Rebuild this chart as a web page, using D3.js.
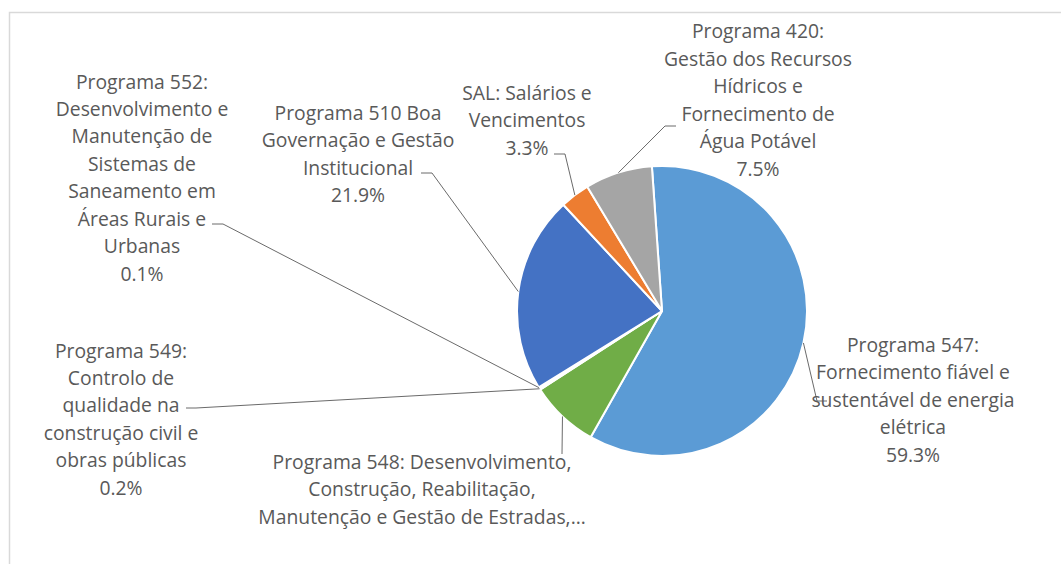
<!DOCTYPE html>
<html>
<head>
<meta charset="utf-8">
<script src="https://cdn.jsdelivr.net/npm/d3@7"></script>
<style>
  html, body { margin: 0; padding: 0; background: #fff; }
  svg { display: block; }
</style>
</head>
<body>
<svg id="chart" width="1061" height="564"></svg>
<script>
// Budget share by programme (percent), listed clockwise from the top of the pie
const categories = ["547", "548", "549", "552", "510", "SAL", "420"];
const shares = [59.3, 7.7, 0.2, 0.1, 21.9, 3.3, 7.5];
const sliceColors = ["#5B9BD5", "#70AD47", "#264478", "#9E480E", "#4472C4", "#ED7D31", "#A5A5A5"];

// Label text, one entry per line; the percentage line is appended from the data
const labelLines = [
  ["Programa 547:", "Fornecimento fiável e", "sustentável de energia", "elétrica"],
  ["Programa 548: Desenvolvimento,", "Construção, Reabilitação,", "Manutenção e Gestão de Estradas,…"],
  ["Programa 549:", "Controlo de", "qualidade na", "construção civil e", "obras públicas"],
  ["Programa 552:", "Desenvolvimento e", "Manutenção de", "Sistemas de", "Saneamento em", "Áreas Rurais e", "Urbanas"],
  ["Programa 510 Boa", "Governação e Gestão", "Institucional"],
  ["SAL: Salários e", "Vencimentos"],
  ["Programa 420:", "Gestão dos Recursos", "Hídricos e", "Fornecimento de", "Água Potável"]
];
// The 548 label is cut short, so it carries no percentage line
const showPercent = [true, false, true, true, true, true, true];

// Label placement: text centre x, first baseline y, leader-line bend and end points
const labelX = [913, 422, 121, 142, 358, 527, 758];
const labelY = [352, 469, 357.5, 88.5, 120, 100, 38.3];
const leaderBend = [[817, 401], null, [196, 408], [223, 224], [432, 173], [565, 154], [665, 126]];
const leaderEnd = [[827, 401], [562, 454], [186, 408], [212, 224], [421, 173], [554, 154], [676, 126]];

const svg = d3.select("#chart");
const cx = 662, cy = 311, R = 145;
const lineH = 27.45;
const textColor = "#595959";

// Chart area frame
svg.append("rect")
  .attr("x", 9.5).attr("y", 12.5)
  .attr("width", 1070).attr("height", 600)
  .attr("fill", "#fff")
  .attr("stroke", "#d9d9d9")
  .attr("stroke-width", 1.5);

const pie = d3.pie()
  .sort(null)
  .value(d => d)
  .startAngle(-4 * Math.PI / 180)
  .endAngle((360 - 4) * Math.PI / 180);

const arcs = pie(shares);
const arc = d3.arc().innerRadius(0).outerRadius(R);
const edge = d3.arc().innerRadius(R).outerRadius(R);

const g = svg.append("g").attr("transform", `translate(${cx},${cy})`);

g.selectAll("path.slice")
  .data(arcs)
  .join("path")
  .attr("class", "slice")
  .attr("d", arc)
  .attr("fill", (d, i) => sliceColors[i])
  .attr("stroke", "#fff")
  .attr("stroke-width", 2)
  .attr("stroke-linejoin", "round");

// Fit the label font so a reference line has the expected width
const fontFamily = "'Open Sans', 'Noto Sans', sans-serif";
const probe = svg.append("text")
  .attr("font-family", fontFamily)
  .attr("font-size", 100)
  .text("Gestão dos Recursos");
const probeW = probe.node().getComputedTextLength();
probe.remove();
const fontSize = probeW > 0 ? 100 * 188 / probeW : 17.5;

// Leader lines from slice edge to each label
const leaders = svg.append("g");
arcs.forEach((d, i) => {
  const c = edge.centroid(d);
  const pts = [[cx + c[0], cy + c[1]]];
  if (leaderBend[i]) pts.push(leaderBend[i]);
  pts.push(leaderEnd[i]);
  leaders.append("path")
    .attr("d", d3.line()(pts))
    .attr("fill", "none")
    .attr("stroke", "#595959")
    .attr("stroke-width", 0.9);
});

// Data labels
const fmt = d3.format(".1f");
const labels = svg.append("g")
  .attr("font-family", fontFamily)
  .attr("font-size", fontSize)
  .attr("fill", textColor)
  .attr("text-anchor", "middle");

categories.forEach((cat, i) => {
  const lines = labelLines[i].slice();
  if (showPercent[i]) lines.push(fmt(shares[i]) + "%");
  const t = labels.append("text").attr("class", "label-" + cat);
  lines.forEach((ln, k) => {
    t.append("tspan")
      .attr("x", labelX[i])
      .attr("y", labelY[i] + k * lineH)
      .text(ln);
  });
});
</script>
</body>
</html>
